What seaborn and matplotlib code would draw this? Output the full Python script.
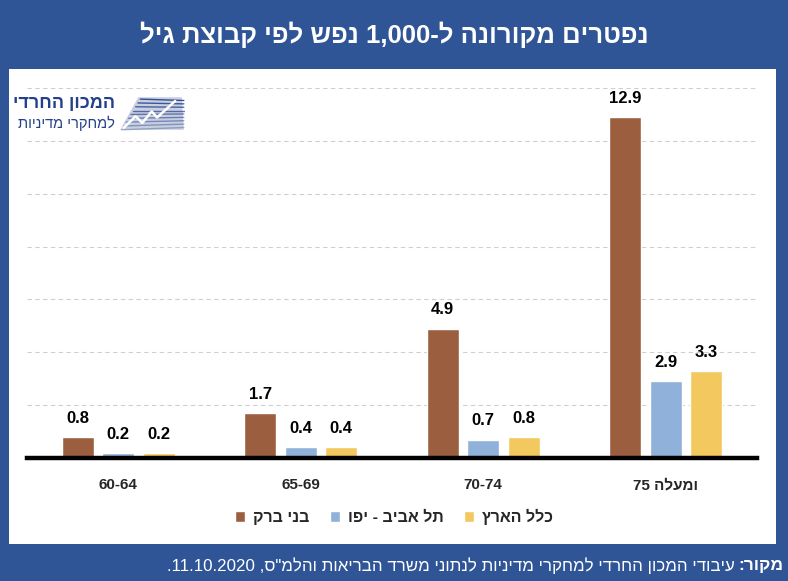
import re
import pandas as pd
import seaborn as sns
import matplotlib.pyplot as plt
from matplotlib.patches import Rectangle, Polygon
from matplotlib.lines import Line2D

# data
age_groups = ["60-64", "65-69", "70-74", "75 ומעלה"]
cities = ["בני ברק", "תל אביב - יפו", "כלל הארץ"]
bnei_brak = [0.8, 1.7, 4.9, 12.9]
tel_aviv = [0.2, 0.4, 0.7, 2.9]
israel = [0.2, 0.4, 0.8, 3.3]
colors = ["#9B5F40", "#8FB1DA", "#F2C85F"]

title = "נפטרים מקורונה ל-1,000 נפש לפי קבוצת גיל"
source_bold = "מקור:"
source_text = 'עיבודי המכון החרדי למחקרי מדיניות לנתוני משרד הבריאות והלמ"ס, 11.10.2020.'

BG = "#2F5597"
NUM = r'\d+(?:[.,]\d+)*'


def heb(s):
    # crude bidi for an RTL line: reverse runs, keep numbers left-to-right
    parts = re.split('(' + NUM + ')', s)
    return ''.join(p if re.fullmatch(NUM, p) else p[::-1] for p in parts[::-1])


def heb_ltr(s):
    # LTR line with Hebrew words inside (axis labels)
    return re.sub(r'[\u0590-\u05FF]+(?:[ \-]+[\u0590-\u05FF]+)*', lambda m: m.group(0)[::-1], s)


sns.set_style("white")
plt.rcParams['font.family'] = ['Liberation Sans', 'DejaVu Sans']

rows = []
for name, vals in zip(cities, [bnei_brak, tel_aviv, israel]):
    for age, v in zip(age_groups, vals):
        rows.append({"age": heb_ltr(age), "city": heb(name), "value": v})
df = pd.DataFrame(rows)

fig = plt.figure(figsize=(7.88, 5.81), dpi=100)
fig.patch.set_facecolor(BG)

# white panel
fig.add_artist(Rectangle((0.0114, 0.0637), 0.9734, 0.8175, transform=fig.transFigure,
                         facecolor="white", edgecolor="none", zorder=0))

ax = fig.add_axes([0.0343, 0.2117, 0.9264, 0.6368])
ax.set_facecolor("none")
ax.set_zorder(2)

sns.barplot(data=df, x="age", y="value", hue="city",
            palette=dict(zip(df["city"].unique(), colors)),
            width=0.666, gap=0.21, ax=ax, errorbar=None, saturation=1)

for cont in ax.containers:
    ax.bar_label(cont, labels=[f"{b.get_height():.1f}" for b in cont],
                 padding=8, fontsize=12, fontweight="bold", color="black")

ax.set_ylim(0, 14)
ax.set_xlim(-0.5, 3.5)
ax.set_yticks(range(2, 15, 2))
ax.yaxis.grid(True, linestyle=(0, (4, 3)), color="#D0D0D0", linewidth=0.8)
ax.set_axisbelow(True)
ax.tick_params(axis="y", left=False, labelleft=False)
ax.tick_params(axis="x", bottom=False, pad=11, labelsize=11)
for lab in ax.get_xticklabels():
    lab.set_fontweight("bold")
ax.set_xlabel("")
ax.set_ylabel("")
for s in ["top", "right", "left"]:
    ax.spines[s].set_visible(False)
ax.spines["bottom"].set_color("black")
ax.spines["bottom"].set_linewidth(3.2)

leg = ax.legend(loc="center", bbox_to_anchor=(0.5, 0.110), bbox_transform=fig.transFigure,
                ncol=3, frameon=False, handlelength=0.6, handleheight=0.6,
                handletextpad=0.5, columnspacing=1.3,
                prop={"weight": "bold", "size": 11.5})

# title
fig.text(0.5, 0.94, heb(title), color="white", fontsize=18.5, fontweight="bold",
         ha="center", va="center")

# source line
sb = fig.text(0.994, 0.027, heb(source_bold), color="white", fontsize=12.5,
              fontweight="bold", ha="right", va="center")
fig.canvas.draw()
bb = sb.get_window_extent()
x0 = fig.transFigure.inverted().transform((bb.x0, bb.y0))[0]
fig.text(x0 - 0.004, 0.027, heb(source_text), color="white", fontsize=12.2,
         ha="right", va="center")

# logo
logo_blue = "#24408A"
fig.text(0.146, 0.822, heb("המכון החרדי"), color=logo_blue, fontsize=13,
         fontweight="bold", ha="right", va="center")
fig.text(0.146, 0.788, heb("למחקרי מדיניות"), color=logo_blue, fontsize=10.5,
         ha="right", va="center")
lax = fig.add_axes([0.150, 0.770, 0.085, 0.066])
lax.set_xlim(0, 10)
lax.set_ylim(0, 10)
lax.axis("off")
for i in range(9):
    y = 1 + i * 1.0
    lax.add_line(Line2D([0.5 + i * 0.35, 9.8], [y, y + 0.6 - i * 0.12],
                        color=logo_blue, alpha=0.35 + 0.07 * i, linewidth=1.0))
lax.add_patch(Polygon([[0.3, 1], [3, 9.5], [9.5, 9.5], [9.8, 1]], closed=True,
                      facecolor=logo_blue, alpha=0.25, edgecolor="none"))
lax.add_line(Line2D([0.8, 2.6, 3.6, 5.0, 5.8, 8.5], [1.5, 4.5, 2.8, 5.8, 4.2, 8.5],
                    color="white", linewidth=1.8))

fig.savefig("out.png", dpi=100, facecolor=fig.get_facecolor())
